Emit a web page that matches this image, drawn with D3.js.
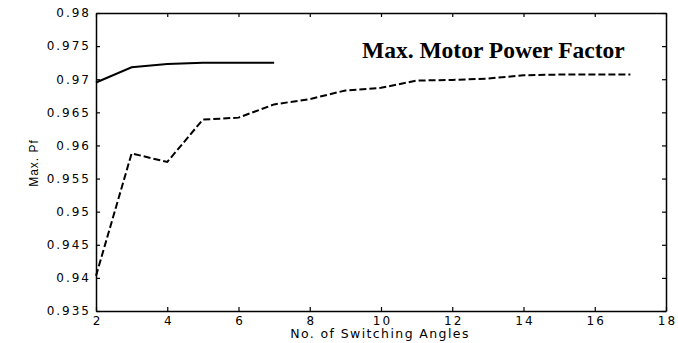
<!DOCTYPE html>
<html><head><meta charset="utf-8">
<script src="https://cdn.jsdelivr.net/npm/d3@7"></script>
<style>body{margin:0;background:#fff}svg{display:block}</style>
</head><body>
<svg id="c" width="678" height="343"></svg>
<script>
const xTicks = [2,4,6,8,10,12,14,16,18];
const yTicks = [0.935,0.94,0.945,0.95,0.955,0.96,0.965,0.97,0.975,0.98];
const solidX = [2,3,4,5,6,7];
const solidY = [0.9695,0.9718,0.9723,0.9725,0.9725,0.9725];
const dashX = [2,3,4,5,6,7,8,9,10,11,12,13,14,15,16,17];
const dashY = [0.9403,0.9588,0.9575,0.9639,0.9642,0.9662,0.9670,0.9683,0.9687,0.9698,0.9699,0.9701,0.9706,0.9707,0.9707,0.9707];

const svg = d3.select("#c");
const L=96,R=666,T=13,B=311;
const x = d3.scaleLinear().domain([2,18]).range([L,R]);
const y = d3.scaleLinear().domain([0.935,0.98]).range([B,T]);

const tickFont = "DejaVu Sans, sans-serif";
const gB = svg.append("g").attr("transform",`translate(0,${B})`)
  .call(d3.axisBottom(x).tickValues(xTicks).tickSizeInner(-4).tickSizeOuter(0).tickPadding(5).tickFormat(d3.format("d")));
const gT = svg.append("g").attr("transform",`translate(0,${T})`)
  .call(d3.axisTop(x).tickValues(xTicks).tickSizeInner(-4).tickSizeOuter(0).tickFormat(""));
const gL = svg.append("g").attr("transform",`translate(${L},0)`)
  .call(d3.axisLeft(y).tickValues(yTicks).tickSizeInner(-4).tickSizeOuter(0).tickPadding(5).tickFormat(d=>String(+d.toFixed(3))));
const gR = svg.append("g").attr("transform",`translate(${R},0)`)
  .call(d3.axisRight(y).tickValues(yTicks).tickSizeInner(-4).tickSizeOuter(0).tickFormat(""));
[gB,gT,gL,gR].forEach(g=>{
  g.select(".domain").attr("stroke","#000").attr("stroke-width",1.5);
  g.selectAll(".tick line").attr("stroke","#000").attr("stroke-width",1.2);
  g.selectAll("text").attr("font-family",tickFont).attr("font-size",12).attr("letter-spacing",2).attr("fill","#000");
});
gB.selectAll("text").attr("dx",1);

const line = d3.line().x(d=>x(d[0])).y(d=>y(d[1]));
svg.append("path").datum(solidX.map((v,i)=>[v,solidY[i]]))
  .attr("d",line).attr("fill","none").attr("stroke","#000").attr("stroke-width",2);
svg.append("path").datum(dashX.map((v,i)=>[v,dashY[i]]))
  .attr("d",line).attr("fill","none").attr("stroke","#000").attr("stroke-width",2).attr("stroke-dasharray","7,3");

svg.append("text").attr("x",(L+R)/2-1).attr("y",338).attr("text-anchor","middle")
  .attr("font-family",tickFont).attr("font-size",12.5).attr("letter-spacing",1.4).text("No. of Switching Angles");
svg.append("text").attr("transform","translate(38,163) rotate(-90)").attr("text-anchor","middle")
  .attr("font-family","Liberation Sans, Arial, sans-serif").attr("font-size",12).attr("letter-spacing",1).text("Max. Pf");
svg.append("text").attr("x",362).attr("y",58).attr("font-family","Liberation Serif, Times New Roman, serif")
  .attr("font-weight","bold").attr("font-size",23.5).text("Max. Motor Power Factor");
</script>
</body></html>
